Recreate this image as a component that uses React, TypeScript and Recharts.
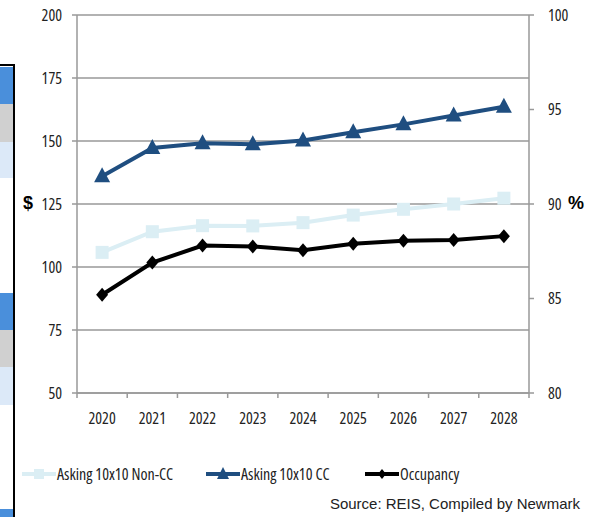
import React from 'react'
import { LineChart, Line, XAxis, YAxis, CartesianGrid } from 'recharts'

const years = ['2020', '2021', '2022', '2023', '2024', '2025', '2026', '2027', '2028']
const askingNonCC = [105.8, 114, 116.4, 116.3, 117.6, 120.6, 122.9, 125, 127.3]
const askingCC = [136, 147.2, 149.1, 148.7, 150.2, 153.5, 156.6, 160.1, 163.6]
const occupancy = [85.2, 86.9, 87.8, 87.75, 87.55, 87.9, 88.05, 88.1, 88.3]
const leftTicks = [50, 75, 100, 125, 150, 175, 200]
const rightTicks = [80, 85, 90, 95, 100]

const data = years.map((year, i) => ({
  year,
  nonCC: askingNonCC[i],
  cc: askingCC[i],
  occ: occupancy[i],
}))

const W = 604
const H = 430
const LEFT_W = 77
const RIGHT_W = 75
const BAND = (W - LEFT_W - RIGHT_W) / years.length

const NARROW = "'Open Sans', sans-serif"
const STRETCH = '75%'
const AXIS = '#999999'
const LIGHT = '#dbeef4'
const DARK = '#1f4e80'

const XTick = (props: any) => {
  const { x, y, payload, index, visibleTicksCount } = props
  return (
    <g>
      <line x1={x - BAND / 2} x2={x - BAND / 2} y1={y - 5} y2={y} stroke={AXIS} strokeWidth={1.5} />
      {index === visibleTicksCount - 1 && (
        <line x1={x + BAND / 2} x2={x + BAND / 2} y1={y - 5} y2={y} stroke={AXIS} strokeWidth={1.5} />
      )}
      <text x={x} y={y + 26} textAnchor="middle" fontSize={16} fill="#222" fontFamily={NARROW} style={{ fontStretch: STRETCH }}>
        {payload.value}
      </text>
    </g>
  )
}

const square = (p: any) => (
  <rect key={`s${p.index}`} x={p.cx - 6.5} y={p.cy - 6.5} width={13} height={13} fill={LIGHT} />
)
const triangle = (p: any) => (
  <polygon
    key={`t${p.index}`}
    points={`${p.cx},${p.cy - 9} ${p.cx + 8},${p.cy + 6} ${p.cx - 8},${p.cy + 6}`}
    fill={DARK}
  />
)
const diamond = (p: any) => (
  <polygon
    key={`d${p.index}`}
    points={`${p.cx},${p.cy - 7} ${p.cx + 6},${p.cy} ${p.cx},${p.cy + 7} ${p.cx - 6},${p.cy}`}
    fill="#000"
  />
)

const band = (top: number, h: number, color: string) => (
  <div style={{ position: 'absolute', left: 0, top, width: 13, height: h, background: color }} />
)

const LegendItem = ({ left, color, label, marker }: { left: number; color: string; label: string; marker: React.ReactNode }) => (
  <div style={{ position: 'absolute', left, top: 465, display: 'flex', alignItems: 'center' }}>
    <svg width={34} height={14}>
      <line x1={0} x2={34} y1={7} y2={7} stroke={color} strokeWidth={4} />
      {marker}
    </svg>
    <span style={{ fontFamily: NARROW, fontStretch: STRETCH, fontSize: 16, color: '#222', marginLeft: 1, lineHeight: '18px' }}>{label}</span>
  </div>
)

const tickStyle = { fontSize: 16, fill: '#222', fontFamily: NARROW, style: { fontStretch: STRETCH } }

export default function App() {
  return (
    <div style={{ position: 'absolute', left: 0, top: 0, width: W, height: 517, background: '#fff', overflow: 'hidden' }}>
      {band(67, 37, '#4a8fdb')}
      {band(104, 38, '#d0d0d0')}
      {band(142, 36, '#dce9f8')}
      {band(293, 37, '#4a8fdb')}
      {band(330, 37, '#d0d0d0')}
      {band(367, 38, '#dce9f8')}
      {band(509, 8, '#4a8fdb')}
      <div style={{ position: 'absolute', left: 0, top: 64, width: 15, height: 2, background: '#000' }} />
      <div style={{ position: 'absolute', left: 13, top: 64, width: 2, height: 453, background: '#000' }} />

      <div style={{ position: 'absolute', left: 0, top: 0 }}>
        <LineChart width={W} height={H} data={data} margin={{ top: 15, right: 0, bottom: 0, left: 0 }}>
          <CartesianGrid vertical={false} stroke={AXIS} strokeWidth={1.5} yAxisId="left" />
          <XAxis
            dataKey="year"
            height={37}
            padding={{ left: BAND / 2, right: BAND / 2 }}
            tickSize={5}
            tickMargin={0}
            tickLine={false}
            axisLine={{ stroke: AXIS, strokeWidth: 1.5 }}
            tick={<XTick />}
            interval={0}
          />
          <YAxis
            yAxisId="left"
            width={LEFT_W}
            domain={[50, 200]}
            ticks={leftTicks}
            tickSize={5}
            tickMargin={10}
            axisLine={{ stroke: AXIS, strokeWidth: 1.5 }}
            tickLine={{ stroke: AXIS, strokeWidth: 1.5 }}
            tick={tickStyle}
          />
          <YAxis
            yAxisId="right"
            orientation="right"
            width={RIGHT_W}
            domain={[80, 100]}
            ticks={rightTicks}
            tickSize={5}
            tickMargin={14}
            axisLine={{ stroke: AXIS, strokeWidth: 1.5 }}
            tickLine={{ stroke: AXIS, strokeWidth: 1.5 }}
            tick={tickStyle}
          />
          <Line yAxisId="left" dataKey="nonCC" stroke={LIGHT} strokeWidth={4} dot={square} isAnimationActive={false} />
          <Line yAxisId="left" dataKey="cc" stroke={DARK} strokeWidth={4} dot={triangle} isAnimationActive={false} />
          <Line yAxisId="right" dataKey="occ" stroke="#000" strokeWidth={4} dot={diamond} isAnimationActive={false} />
        </LineChart>
      </div>

      <div style={{ position: 'absolute', left: 23, top: 193, fontFamily: 'Liberation Sans, sans-serif', fontWeight: 'bold', fontSize: 18 }}>$</div>
      <div style={{ position: 'absolute', left: 568, top: 193, fontFamily: 'Liberation Sans, sans-serif', fontWeight: 'bold', fontSize: 18 }}>%</div>

      <LegendItem left={22} color={LIGHT} label="Asking 10x10 Non-CC" marker={<rect x={12} y={2} width={10} height={10} fill={LIGHT} />} />
      <LegendItem left={206} color={DARK} label="Asking 10x10 CC" marker={<polygon points="17,0 23,12 11,12" fill={DARK} />} />
      <LegendItem left={365} color="#000" label="Occupancy" marker={<polygon points="17,2 21,7 17,12 13,7" fill="#000" />} />

      <div style={{ position: 'absolute', right: 24, top: 495, fontFamily: 'Liberation Sans, Arial, sans-serif', fontSize: 15, color: '#222' }}>
        Source: REIS, Compiled by Newmark
      </div>
    </div>
  )
}
